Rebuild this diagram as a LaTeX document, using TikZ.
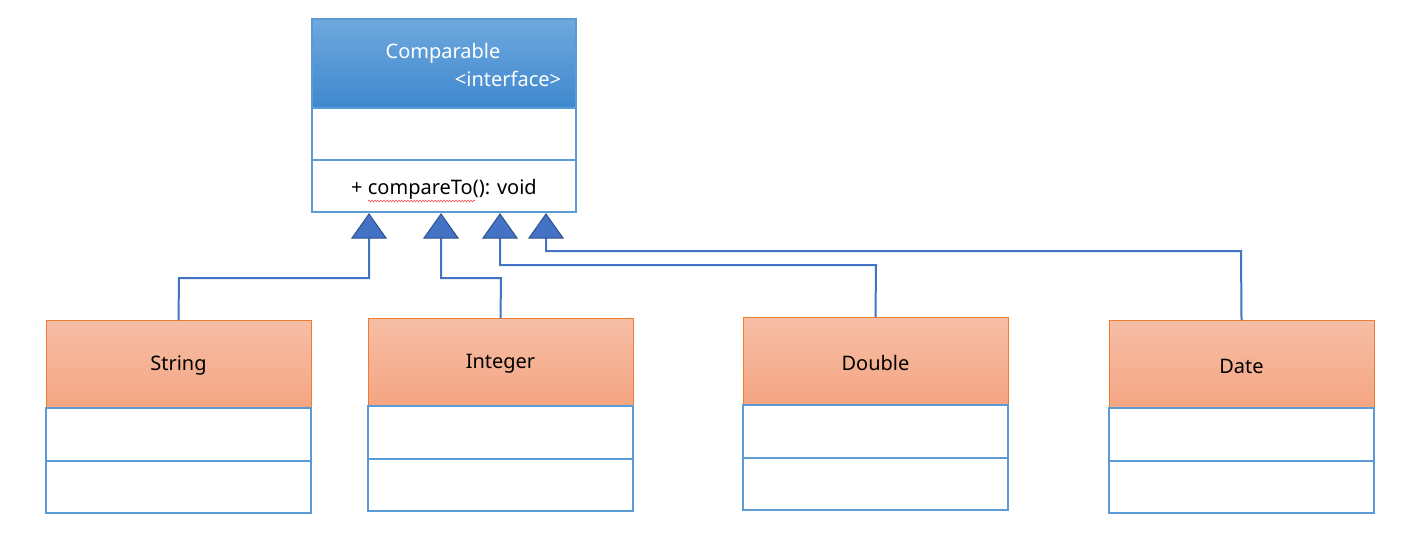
\documentclass[tikz,border=0pt]{standalone}
\usepackage{fontspec}
\setmainfont{Noto Sans}
\usetikzlibrary{calc,decorations.pathmorphing}
\begin{document}
\begin{tikzpicture}[x=1pt,y=-1pt,
  hdrblue/.style={draw=boxblue, line width=1.2pt, top color=blueTop, bottom color=blueBot},
  hdrorange/.style={draw=orangeEdge, line width=1pt, top color=orTop, bottom color=orBot},
  comp/.style={draw=boxblue, line width=2pt, fill=white},
  tri/.style={draw=triEdge, line width=1pt, fill=triFill},
  conn/.style={draw=lineBlue, line width=2pt},
  lbl/.style={font=\fontsize{20}{22}\selectfont, text=black},
  lblw/.style={font=\fontsize{20}{22}\selectfont, text=white}
]
\definecolor{boxblue}{HTML}{5B9BD5}
\definecolor{blueTop}{HTML}{6EA8DE}
\definecolor{blueBot}{HTML}{3F88CE}
\definecolor{orangeEdge}{HTML}{ED7D31}
\definecolor{orTop}{HTML}{F6BEA6}
\definecolor{orBot}{HTML}{F5A582}
\definecolor{triFill}{HTML}{4472C4}
\definecolor{triEdge}{HTML}{2F528F}
\definecolor{lineBlue}{HTML}{4472C4}
\useasboundingbox (0,0) rectangle (1404,554);
\fill[white] (0,0) rectangle (1404,554);

% Comparable interface
\path[hdrblue] (312,19) rectangle (576,108);
\path[comp] (312,108) rectangle (576,160);
\path[comp] (312,160) rectangle (576,212);
\node[lblw] (cmpname) at (443,53) {Comparable};
\node[lblw] (cmpstereo) at (508,79) {<interface>};
\node[lbl] (cmpmeth) at (444,189) {+ compareTo(): void};
\draw[red!70, line width=0.6pt, decorate, decoration={snake, amplitude=0.8pt, segment length=3pt}] (368,201) -- (475,201);
\coordinate (t1) at (369,238);
\coordinate (t2) at (441,238);
\coordinate (t3) at (500,238);
\coordinate (t4) at (546,238);

% class boxes
\newcommand{\umlclass}[4]{%
  \path[hdrorange] (#1,#2) rectangle (#1+265,#2+88);
  \path[comp] (#1,#2+88) rectangle (#1+265,#2+141);
  \path[comp] (#1,#2+141) rectangle (#1+265,#2+193);
  \node[lbl] (#4) at (#1+132.5,#2+46) {#3};
  \coordinate (#4top) at (#1+132.5,#2);
}
\umlclass{46}{320}{String}{str}
\umlclass{368}{318}{Integer}{int}
\umlclass{743}{317}{Double}{dbl}
\umlclass{1109}{320}{Date}{dat}

% connectors
\draw[conn] (strtop) -- (179,278) -| (t1);
\draw[conn] (inttop) -- (501,278) -| (t2);
\draw[conn] (dbltop) -- (876,265) -| (t3);
\draw[conn] (dattop) -- (1241,251) -| (t4);

% triangles
\foreach \c in {t1,t2,t3,t4}{
  \path[tri] ($(\c)+(-17,0)$) -- ($(\c)+(17,0)$) -- ($(\c)+(0,-24)$) -- cycle;
}
\end{tikzpicture}
\end{document}
